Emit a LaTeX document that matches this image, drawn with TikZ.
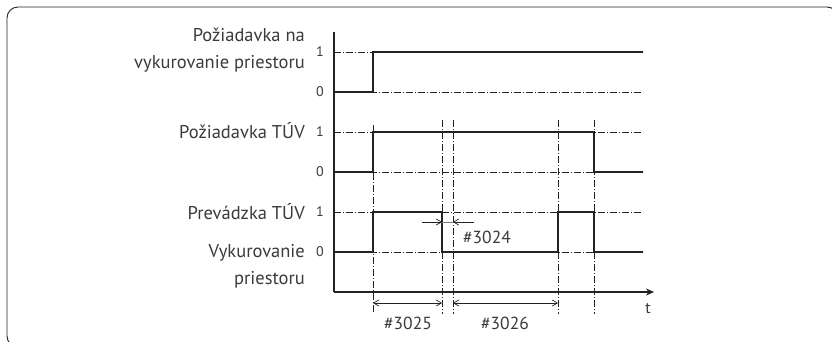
\documentclass[tikz,border=0pt]{standalone}
\usepackage{fontspec}
\setmainfont{PT Sans}
\usetikzlibrary{arrows.meta}

\definecolor{txtgray}{HTML}{3A3A3A}
\definecolor{linegray}{HTML}{222222}
\definecolor{dimgray}{HTML}{7A7A7A}

\begin{document}
\begin{tikzpicture}[x=1pt, y=-1pt,
    lbl/.style={anchor=east, align=right, inner sep=0pt, text=txtgray, font=\fontsize{18.5}{27}\selectfont},
    lvl/.style={inner sep=0pt, text=txtgray, font=\fontsize{14}{16}\selectfont},
    dimlbl/.style={inner sep=0pt, text=txtgray, font=\fontsize{17.5}{20}\selectfont},
    signal/.style={draw=linegray, line width=2.4pt},
    guide/.style={draw=linegray, line width=0.8pt, dash pattern=on 7pt off 2pt on 1pt off 2pt},
    axis/.style={draw=linegray, line width=2pt},
    dim/.style={draw=linegray, line width=0.7pt, {Straight Barb[length=5pt,width=6pt]}-{Straight Barb[length=5pt,width=6pt]}},
    frame/.style={draw=linegray, line width=0.9pt, rounded corners=11pt}
]
    \useasboundingbox (0,0) rectangle (832,341);
    \draw[frame] (7,7) rectangle (838,347);

    \coordinate (o) at (334,292);
    \coordinate (ytop) at (334,32);
    \coordinate (tend) at (654,292);
    \coordinate (hi1) at (334,52);
    \coordinate (lo1) at (334,92);
    \coordinate (hi2) at (334,132);
    \coordinate (lo2) at (334,172);
    \coordinate (hi3) at (334,212);
    \coordinate (lo3) at (334,252);
    \coordinate (ta) at (373,0);
    \coordinate (tb) at (442,0);
    \coordinate (tc) at (453,0);
    \coordinate (td) at (558,0);
    \coordinate (te) at (594,0);
    \coordinate (tf) at (643,0);
    \coordinate (gtop) at (0,120);
    \coordinate (gbot) at (0,314);
    \coordinate (dimy) at (0,303);

    \foreach \lv in {hi1,lo1,hi2,lo2,hi3,lo3}
        \draw[guide] (\lv) -- (tf |- \lv);
    \draw[guide] (ta |- 0,125) -- (ta |- gbot);
    \foreach \tt in {tb,tc,td,te}
        \draw[guide] (\tt |- gtop) -- (\tt |- gbot);

    \draw[signal] (lo1) -- (ta |- lo1) -- (ta |- hi1) -- (tf |- hi1);
    \draw[signal] (lo2) -- (ta |- lo2) -- (ta |- hi2) -- (te |- hi2) -- (te |- lo2) -- (tf |- lo2);
    \draw[signal] (lo3) -- (ta |- lo3) -- (ta |- hi3) -- (tb |- hi3) -- (tb |- lo3)
        -- (td |- lo3) -- (td |- hi3) -- (te |- hi3) -- (te |- lo3) -- (tf |- lo3);

    \draw[axis] (ytop) -- (o);
    \draw[axis, -{Stealth[length=8pt,width=7pt]}] (o) -- (tend);

    \node[lbl] (reqheat) at (305,50) {Požiadavka na\\vykurovanie priestoru};
    \node[lbl] (reqdhw) at (305,131) {Požiadavka TÚV};
    \node[lbl] (rundhw) at (305,212) {Prevádzka TÚV};
    \node[lbl] (runheat) at (305,266) {Vykurovanie\\priestoru};

    \foreach \lv/\val in {hi1/1,lo1/0,hi2/1,lo2/0,hi3/1,lo3/0}
        \node[lvl] at ([xshift=-14pt]\lv) {\val};

    \node[lvl, font=\fontsize{16}{18}\selectfont] (tlbl) at (648,309) {t};

    \draw[dim] (ta |- dimy) -- (tb |- dimy);
    \draw[dim] (tc |- dimy) -- (td |- dimy);
    \node[dimlbl] (p3025) at (408,323) {\#3025};
    \node[dimlbl] (p3026) at (505,323) {\#3026};

    \coordinate (dl) at (422,222);
    \coordinate (dr) at (474,222);
    \draw[draw=dimgray, line width=0.7pt] (dl) -- (dr);
    \draw[draw=linegray, line width=0.7pt, -{Straight Barb[length=5pt,width=6pt]}] (dl) -- (tb |- dl);
    \draw[draw=linegray, line width=0.7pt, -{Straight Barb[length=5pt,width=6pt]}] (dr) -- (tc |- dr);
    \node[dimlbl] (p3024) at (487,237) {\#3024};
\end{tikzpicture}
\end{document}
